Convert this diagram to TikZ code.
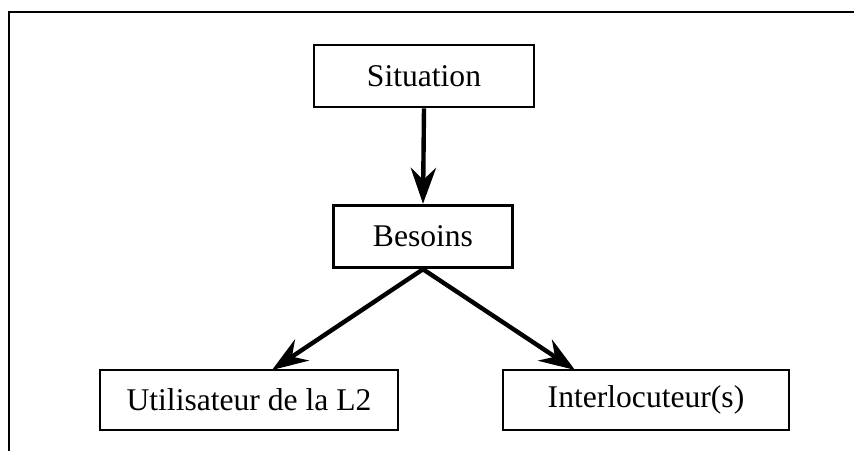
\documentclass[tikz,border=0pt]{standalone}
\usepackage{fontspec}
\setmainfont{Liberation Serif}
\usetikzlibrary{arrows.meta}
\tikzset{
  box/.style={draw, line width=2.1pt, rectangle, inner sep=0pt, font=\fontsize{23.7}{28}\selectfont},
  arr/.style={line width=3.3pt, -{Stealth[length=27pt, width=19pt, inset=9pt]}},
  frame/.style={line width=2.1pt}
}
\begin{document}
\begin{tikzpicture}[x=0.75pt,y=-0.75pt]
\useasboundingbox (0,0) rectangle (854,451);
\draw[frame] (854,12) -- (9,12) -- (9,451);
\node[box, minimum width=165pt, minimum height=46.5pt] (sit) at (424,76) {Situation};
\node[box, minimum width=134pt, minimum height=47pt] (bes) at (423,236.5) {Besoins};
\node[box, minimum width=223.5pt, minimum height=45pt] (util) at (249,400) {Utilisateur de la L2};
\node[box, minimum width=214.5pt, minimum height=45pt] (inter) at (646,400) {Interlocuteur(s)};
\coordinate (ut) at (272,370);
\coordinate (it) at (575,370);
\draw[arr] (sit.south) -- (bes.north);
\draw[arr] (bes.south) -- (ut);
\draw[arr] (bes.south) -- (it);
\end{tikzpicture}
\end{document}
